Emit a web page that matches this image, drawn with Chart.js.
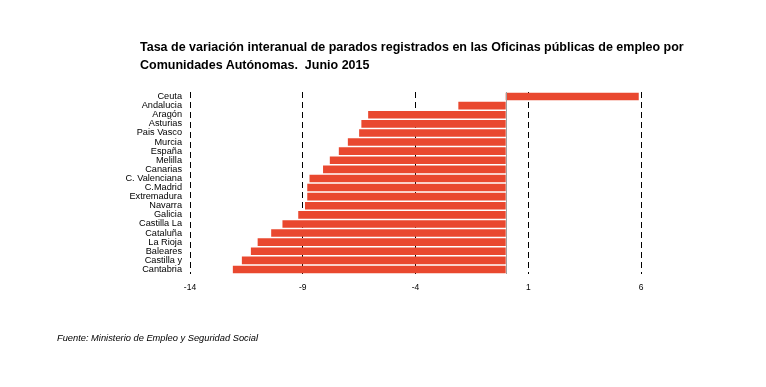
<!DOCTYPE html>
<html>
<head>
<meta charset="utf-8">
<script src="https://cdn.jsdelivr.net/npm/chart.js@4/dist/chart.umd.min.js"></script>
<style>
  html, body { margin: 0; padding: 0; background: #fff; }
  #wrap { position: relative; width: 766px; height: 387px; overflow: hidden; }
  #title { position: absolute; left: 140px; top: 38px; font: bold 12.5px "Liberation Sans", Arial, sans-serif; line-height: 18px; color: #000; }
  #source { position: absolute; left: 57px; top: 333px; font: italic 9.3px "Liberation Sans", Arial, sans-serif; color: #000; }
  canvas { position: absolute; left: 0; top: 0; }
</style>
</head>
<body>
<div id="wrap">
  <canvas id="chart" width="766" height="387"></canvas>
  <div id="title">Tasa de variación interanual de parados registrados en las Oficinas públicas de empleo por<br>Comunidades Autónomas.&nbsp; Junio 2015</div>
  <div id="source">Fuente: Ministerio de Empleo y Seguridad Social</div>
</div>
<script>
const regions = ['Ceuta', 'Andalucia', 'Aragón', 'Asturias', 'Pais Vasco', 'Murcia', 'España', 'Melilla', 'Canarias',
  'C. Valenciana', 'C.Madrid', 'Extremadura', 'Navarra', 'Galicia', 'Castilla La', 'Cataluña', 'La Rioja',
  'Baleares', 'Castilla y', 'Cantabria'];
const variation = [5.9, -2.1, -6.1, -6.4, -6.5, -7.0, -7.4, -7.8, -8.1, -8.7, -8.8, -8.8, -8.9, -9.2, -9.9, -10.4, -11.0, -11.3, -11.7, -12.1];
const xTicks = [-14, -9, -4, 1, 6];

const zeroLine = {
  id: 'zeroLine',
  afterDatasetsDraw(chart) {
    const x = Math.round(chart.scales.x.getPixelForValue(0)) + 0.5;
    const area = chart.chartArea;
    const ctx = chart.ctx;
    ctx.save();
    ctx.strokeStyle = '#a0a0a0';
    ctx.lineWidth = 1;
    ctx.beginPath();
    ctx.moveTo(x, area.top);
    ctx.lineTo(x, area.bottom);
    ctx.stroke();
    ctx.restore();
  }
};

const ctx = document.getElementById('chart').getContext('2d');
new Chart(ctx, {
  type: 'bar',
  data: {
    labels: regions,
    datasets: [{
      data: variation,
      backgroundColor: '#E9482F',
      borderWidth: 0,
      barPercentage: 0.84,
      categoryPercentage: 1
    }]
  },
  plugins: [zeroLine],
  options: {
    indexAxis: 'y',
    responsive: false,
    animation: false,
    layout: { padding: { left: 0, top: 92, right: 125, bottom: 93 } },
    plugins: { legend: { display: false }, tooltip: { enabled: false } },
    scales: {
      x: {
        min: -14,
        max: 6,
        afterBuildTicks(scale) { scale.ticks = xTicks.map(v => ({ value: v })); },
        afterFit(scale) { scale.height = 20; },
        grid: { color: '#000', lineWidth: 1, drawTicks: false },
        border: { display: false, dash: [6, 4] },
        ticks: { color: '#000', padding: 9, font: { family: 'Liberation Sans', size: 8.5 } }
      },
      y: {
        afterFit(scale) { scale.width = 190; },
        grid: { display: false },
        border: { display: false },
        ticks: { color: '#000', padding: 0, autoSkip: false, font: { family: 'Liberation Sans', size: 9.2 } }
      }
    }
  }
});
</script>
</body>
</html>
